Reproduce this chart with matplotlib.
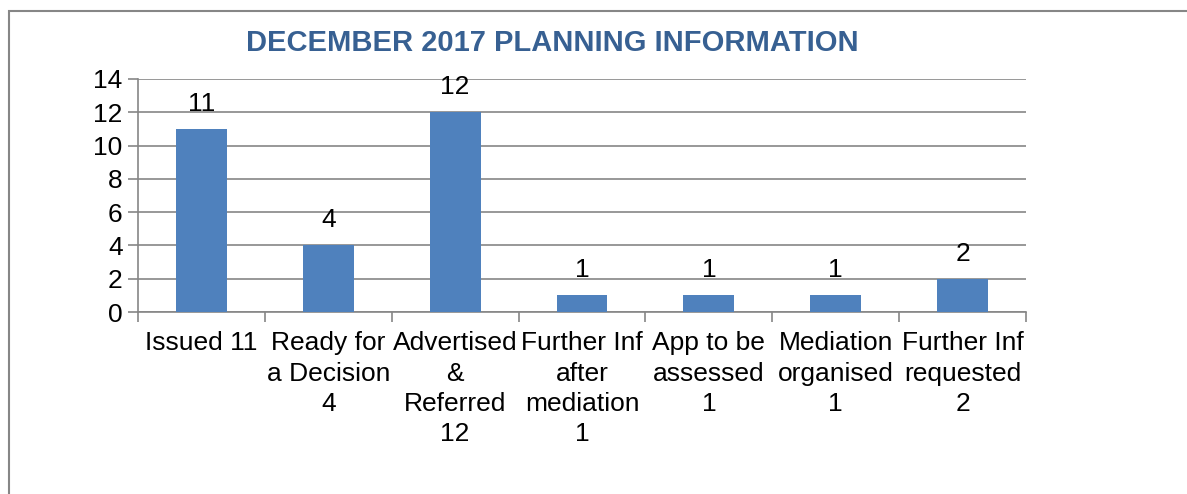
import matplotlib
matplotlib.use("Agg")
import matplotlib.pyplot as plt
from matplotlib.patches import Rectangle

plt.rcParams["font.family"] = ["Liberation Sans", "DejaVu Sans"]

categories = [
    "Issued 11",
    "Ready for\na Decision\n4",
    "Advertised\n&\nReferred\n12",
    "Further Inf\nafter\nmediation\n1",
    "App to be\nassessed\n1",
    "Mediation\norganised\n1",
    "Further Inf\nrequested\n2",
]
counts = [11, 4, 12, 1, 1, 1, 2]
y_ticks = [0, 2, 4, 6, 8, 10, 12, 14]

bar_color = "#4F81BD"
grey = "#868686"

fig = plt.figure(figsize=(11.87, 4.94), dpi=100)
ax = fig.add_axes([138 / 1187, 1 - 312 / 494, 888 / 1187, 233 / 494])

x = list(range(len(categories)))
ax.bar(x, counts, width=0.4, color=bar_color, zorder=3)

for xi, v in zip(x, counts):
    ax.annotate(str(v), (xi, v), xytext=(0, 9.5), textcoords="offset points",
                ha="center", va="bottom", fontsize=19)

ax.set_xlim(-0.5, len(categories) - 0.5)
ax.set_ylim(0, 14)
ax.set_yticks(y_ticks)
ax.tick_params(axis="y", labelsize=19, color=grey, length=7, width=1.2, pad=4)
ax.set_xticks(x)
ax.set_xticklabels(categories, fontsize=19, linespacing=1.32, ha="center")
ax.tick_params(axis="x", which="major", length=0, pad=14)
ax.set_xticks([i - 0.5 for i in range(len(categories) + 1)], minor=True)
ax.tick_params(axis="x", which="minor", length=7, width=1.2, color=grey)

ax.grid(axis="y", color=grey, linewidth=1.2, zorder=0)
ax.set_axisbelow(True)
for s in ["top", "right"]:
    ax.spines[s].set_visible(False)
for s in ["left", "bottom"]:
    ax.spines[s].set_color(grey)
    ax.spines[s].set_linewidth(1.2)

fig.text(552 / 1187, 1 - 43 / 494, "DECEMBER 2017 PLANNING INFORMATION",
         ha="center", va="center", fontsize=21, fontweight="bold", color="#376092")

# outer chart frame (only top and left edges visible)
fig.patches.append(Rectangle((9 / 1187, -0.2), 1.2, 1.2 - 11 / 494,
                             transform=fig.transFigure, fill=False,
                             edgecolor=grey, linewidth=1.5))

fig.savefig("out.png", dpi=100)
